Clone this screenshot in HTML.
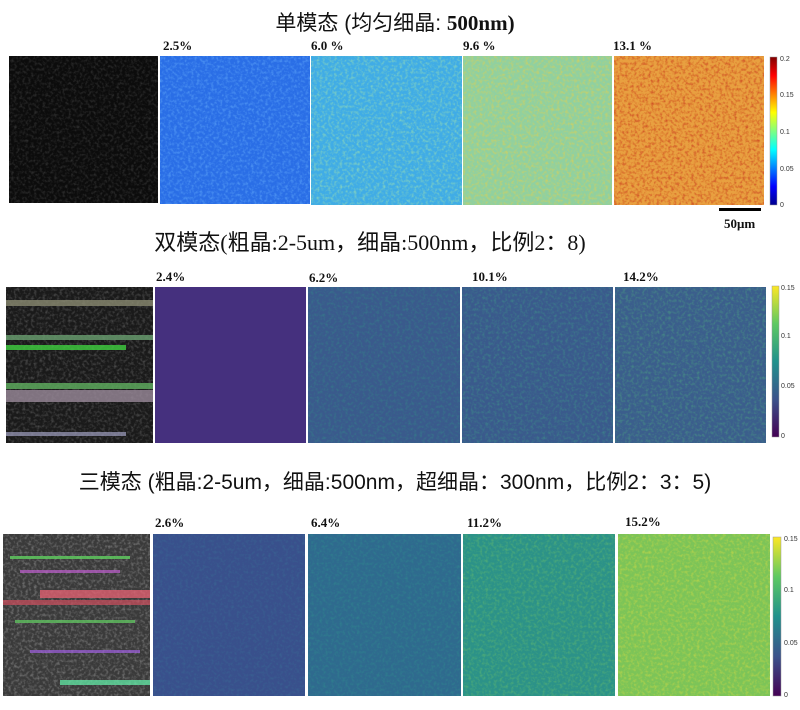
<!DOCTYPE html>
<html><head><meta charset="utf-8"><style>
body{margin:0;background:#fff;width:800px;height:710px;overflow:hidden}
svg{display:block}
.t{font-family:"Liberation Sans","Noto Sans CJK SC",sans-serif;font-size:21px;fill:#111}
.s{font-family:"Liberation Serif","Noto Sans CJK SC",serif;font-size:22px;fill:#111}
.b{font-family:"Liberation Serif",serif;font-weight:bold;font-size:13px;fill:#111}
.c{font-family:"Liberation Sans",sans-serif;font-size:7px;fill:#333}
</style></head><body>
<svg width="800" height="710" viewBox="0 0 800 710" xmlns="http://www.w3.org/2000/svg">
<defs>
<filter id="n" x="0" y="0" width="1" height="1">
<feTurbulence type="fractalNoise" baseFrequency="0.35" numOctaves="2" seed="3" result="t"/>
<feColorMatrix in="t" type="matrix" values="0 0 0 0 1  0 0 0 0 1  0 0 0 0 1  0 0 0 1.6 -0.7" result="a"/>
<feComposite in="SourceGraphic" in2="a" operator="in"/>
</filter>
<linearGradient id="jet" x1="0" y1="1" x2="0" y2="0">
<stop offset="0" stop-color="#00008f"/><stop offset="0.125" stop-color="#0000ff"/><stop offset="0.375" stop-color="#00ffff"/><stop offset="0.625" stop-color="#ffff00"/><stop offset="0.875" stop-color="#ff0000"/><stop offset="1" stop-color="#800000"/>
</linearGradient>
<linearGradient id="vir" x1="0" y1="1" x2="0" y2="0">
<stop offset="0" stop-color="#440154"/><stop offset="0.25" stop-color="#3b528b"/><stop offset="0.5" stop-color="#21918c"/><stop offset="0.75" stop-color="#5ec962"/><stop offset="1" stop-color="#fde725"/>
</linearGradient>
</defs>

<text class="t" x="395" y="30" text-anchor="middle">单模态 (均匀细晶: <tspan font-family="Liberation Serif" font-weight="bold">500nm)</tspan></text>
<rect x="9" y="56" width="149" height="147" fill="#0c0c0c"/>
<rect x="9" y="56" width="149" height="147" fill="#5a5a5a" filter="url(#n)" opacity="0.6"/>
<rect x="160" y="56" width="150" height="148" fill="#2a6ee6"/>
<rect x="160" y="56" width="150" height="148" fill="#70b8ff" filter="url(#n)" opacity="0.7"/>
<rect x="311" y="56" width="151" height="149" fill="#40ace6"/>
<rect x="311" y="56" width="151" height="149" fill="#b8f0a0" filter="url(#n)" opacity="0.7"/>
<rect x="463" y="56" width="149" height="149" fill="#90d0a0"/>
<rect x="463" y="56" width="149" height="149" fill="#f0d040" filter="url(#n)" opacity="0.8"/>
<rect x="614" y="56" width="150" height="149" fill="#e8a040"/>
<rect x="614" y="56" width="150" height="149" fill="#c01c10" filter="url(#n)" opacity="0.8"/>
<text class="b" x="163" y="50">2.5%</text><text class="b" x="311" y="50">6.0 %</text><text class="b" x="463" y="50">9.6 %</text><text class="b" x="613" y="50">13.1 %</text>
<rect x="770" y="57" width="7" height="148" fill="url(#jet)" stroke="#999" stroke-width="0.5"/>
<text class="c" x="780" y="61">0.2</text><text class="c" x="780" y="97">0.15</text><text class="c" x="780" y="134">0.1</text><text class="c" x="780" y="171">0.05</text><text class="c" x="780" y="207">0</text>
<rect x="719" y="208" width="42" height="3" fill="#000"/>
<text class="b" x="724" y="228">50μm</text>

<text class="s" x="370" y="250" text-anchor="middle">双模态(粗晶:2-5um，细晶:500nm，比例2：8)</text>
<rect x="6" y="287" width="147" height="156" fill="#1a1a1a"/>
<rect x="6" y="287" width="147" height="156" fill="#888" filter="url(#n)" opacity="0.6"/>
<rect x="6" y="300" width="147" height="6" fill="#8a8a70" opacity="0.8"/>
<rect x="6" y="335" width="147" height="5" fill="#6aa070" opacity="0.8"/>
<rect x="6" y="345" width="120" height="5" fill="#40d040" opacity="0.8"/>
<rect x="6" y="383" width="147" height="6" fill="#60b060" opacity="0.8"/>
<rect x="6" y="390" width="147" height="12" fill="#9a8a9a" opacity="0.8"/>
<rect x="6" y="432" width="120" height="4" fill="#a0a0c0" opacity="0.7"/>
<rect x="155" y="287" width="151" height="156" fill="#45307e"/>
<rect x="308" y="287" width="152" height="156" fill="#3a5a8c"/>
<rect x="308" y="287" width="152" height="156" fill="#30a088" filter="url(#n)" opacity="0.5"/>
<rect x="462" y="287" width="151" height="156" fill="#3a5a8c"/>
<rect x="462" y="287" width="151" height="156" fill="#40b088" filter="url(#n)" opacity="0.55"/>
<rect x="615" y="287" width="151" height="156" fill="#3b5e8c"/>
<rect x="615" y="287" width="151" height="156" fill="#50b880" filter="url(#n)" opacity="0.6"/>
<text class="b" x="156" y="281">2.4%</text><text class="b" x="309" y="282">6.2%</text><text class="b" x="472" y="281">10.1%</text><text class="b" x="623" y="281">14.2%</text>
<rect x="772" y="286" width="7" height="151" fill="url(#vir)" stroke="#999" stroke-width="0.5"/>
<text class="c" x="781" y="290">0.15</text><text class="c" x="781" y="338">0.1</text><text class="c" x="781" y="388">0.05</text><text class="c" x="781" y="438">0</text>

<text class="t" x="395" y="489" text-anchor="middle" font-size="22">三模态 (粗晶:2-5um，细晶:500nm，超细晶：300nm，比例2：3：5)</text>
<rect x="3" y="534" width="147" height="162" fill="#3a3a3a"/>
<rect x="3" y="534" width="147" height="162" fill="#aaa" filter="url(#n)" opacity="0.7"/>
<rect x="40" y="590" width="110" height="8" fill="#e06070" opacity="0.8"/>
<rect x="3" y="600" width="147" height="5" fill="#d05060" opacity="0.7"/>
<rect x="10" y="556" width="120" height="3" fill="#60d060" opacity="0.8"/>
<rect x="20" y="570" width="100" height="3" fill="#c060d0" opacity="0.7"/>
<rect x="15" y="620" width="120" height="3" fill="#60c060" opacity="0.8"/>
<rect x="30" y="650" width="110" height="3" fill="#a060e0" opacity="0.7"/>
<rect x="60" y="680" width="90" height="5" fill="#60e0a0" opacity="0.8"/>
<rect x="153" y="534" width="152" height="162" fill="#39508c"/>
<rect x="153" y="534" width="152" height="162" fill="#3a7a9a" filter="url(#n)" opacity="0.5"/>
<rect x="308" y="534" width="153" height="162" fill="#2f6a8e"/>
<rect x="308" y="534" width="153" height="162" fill="#30a090" filter="url(#n)" opacity="0.5"/>
<rect x="463" y="534" width="152" height="162" fill="#2c9288"/>
<rect x="463" y="534" width="152" height="162" fill="#80d060" filter="url(#n)" opacity="0.55"/>
<rect x="618" y="534" width="152" height="162" fill="#7cc458"/>
<rect x="618" y="534" width="152" height="162" fill="#e8e040" filter="url(#n)" opacity="0.65"/>
<text class="b" x="155" y="527">2.6%</text><text class="b" x="311" y="527">6.4%</text><text class="b" x="467" y="527">11.2%</text><text class="b" x="625" y="526">15.2%</text>
<rect x="773" y="537" width="8" height="159" fill="url(#vir)" stroke="#999" stroke-width="0.5"/>
<text class="c" x="784" y="541">0.15</text><text class="c" x="784" y="592">0.1</text><text class="c" x="784" y="645">0.05</text><text class="c" x="784" y="697">0</text>
</svg>
</body></html>
